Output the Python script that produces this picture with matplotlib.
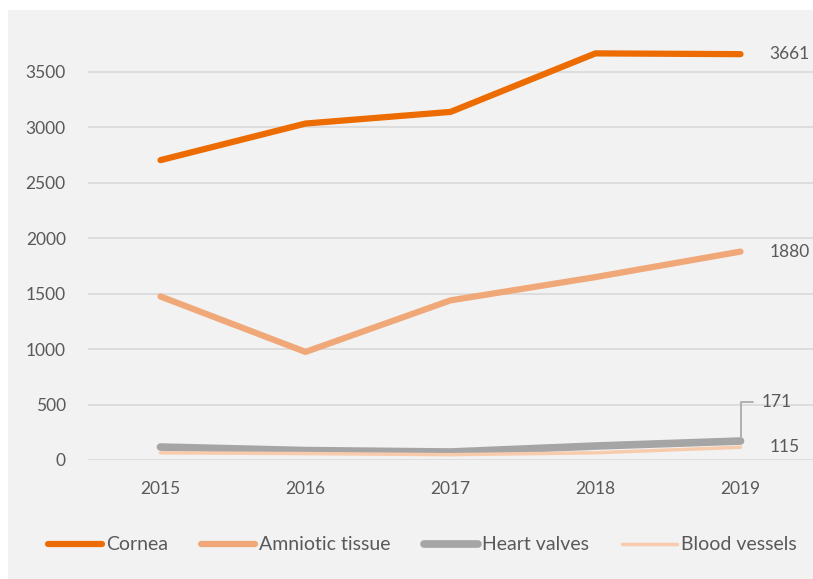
import matplotlib
matplotlib.use("Agg")
import matplotlib.pyplot as plt
from matplotlib.patches import Rectangle

years = ["2015", "2016", "2017", "2018", "2019"]
cornea = [2705, 3035, 3140, 3668, 3661]
amniotic = [1475, 975, 1440, 1650, 1880]
heart_valves = [117, 85, 72, 126, 171]
blood_vessels = [65, 58, 48, 65, 115]
series_names = ["Cornea", "Amniotic tissue", "Heart valves", "Blood vessels"]
y_ticks = [0, 500, 1000, 1500, 2000, 2500, 3000, 3500]

plt.rcParams['font.family'] = ['Lato', 'DejaVu Sans']
txt = "#595959"

W, H = 813, 579
fig = plt.figure(figsize=(W/100, H/100), dpi=100)
fig.patch.set_facecolor("white")
fig.add_artist(Rectangle((8/W, 0), 1 - 8/W, 1 - 10/H, transform=fig.transFigure,
                         facecolor="#f2f2f2", edgecolor="none", zorder=0))

ytop = 3800
px_per_unit = 388 / 3500
left, right, bottom = 88/W, 813/W, 1 - 460/H
top = 1 - (460 - ytop*px_per_unit)/H
ax = fig.add_axes([left, bottom, right-left, top-bottom])
ax.set_facecolor("none")
x = list(range(len(years)))

styles = [
    (cornea, "#ED6C02", 4.5),
    (amniotic, "#F0A878", 4.5),
    (heart_valves, "#A5A5A5", 5.5),
    (blood_vessels, "#F8CBAD", 2.5),
]
handles = []
for (vals, col, lw), name in zip(styles, series_names):
    h, = ax.plot(x, vals, color=col, lw=lw, solid_capstyle="round", solid_joinstyle="round", label=name, zorder=3)
    handles.append(h)

ax.set_xlim(-0.5, 4.5)
ax.set_ylim(0, ytop)
ax.set_yticks(y_ticks)
ax.set_xticks(x)
ax.set_xticklabels(years)
ax.grid(axis="y", color="#d9d9d9", lw=1.2)
ax.set_axisbelow(True)
for s in ax.spines.values():
    s.set_visible(False)
ax.tick_params(length=0, labelsize=12.5, labelcolor=txt)
ax.tick_params(axis="x", pad=15)
ax.tick_params(axis="y", pad=16)

lab_kw = dict(textcoords="offset points", va="center", ha="left", fontsize=12.5, color=txt)
ax.annotate(f"{cornea[-1]}", (4, cornea[-1]), xytext=(21, 0), **lab_kw)
ax.annotate(f"{amniotic[-1]}", (4, amniotic[-1]), xytext=(21, 0), **lab_kw)
ax.annotate(f"{blood_vessels[-1]}", (4, blood_vessels[-1]), xytext=(21, 0), **lab_kw)
ax.annotate(f"{heart_valves[-1]}", (4, heart_valves[-1]), xytext=(15, 28), **lab_kw,
            arrowprops=dict(arrowstyle="-", color="#A5A5A5", lw=1.2,
                            connectionstyle="angle,angleA=0,angleB=90,rad=0",
                            shrinkA=4, shrinkB=3))

fig.legend(handles=handles, labels=series_names, loc="center", bbox_to_anchor=(422/W, 1 - 545/H),
           ncol=4, frameon=False, fontsize=14, labelcolor=txt, handlelength=2.8,
           handletextpad=0.2, columnspacing=1.7)

fig.savefig("out.png", dpi=100)
